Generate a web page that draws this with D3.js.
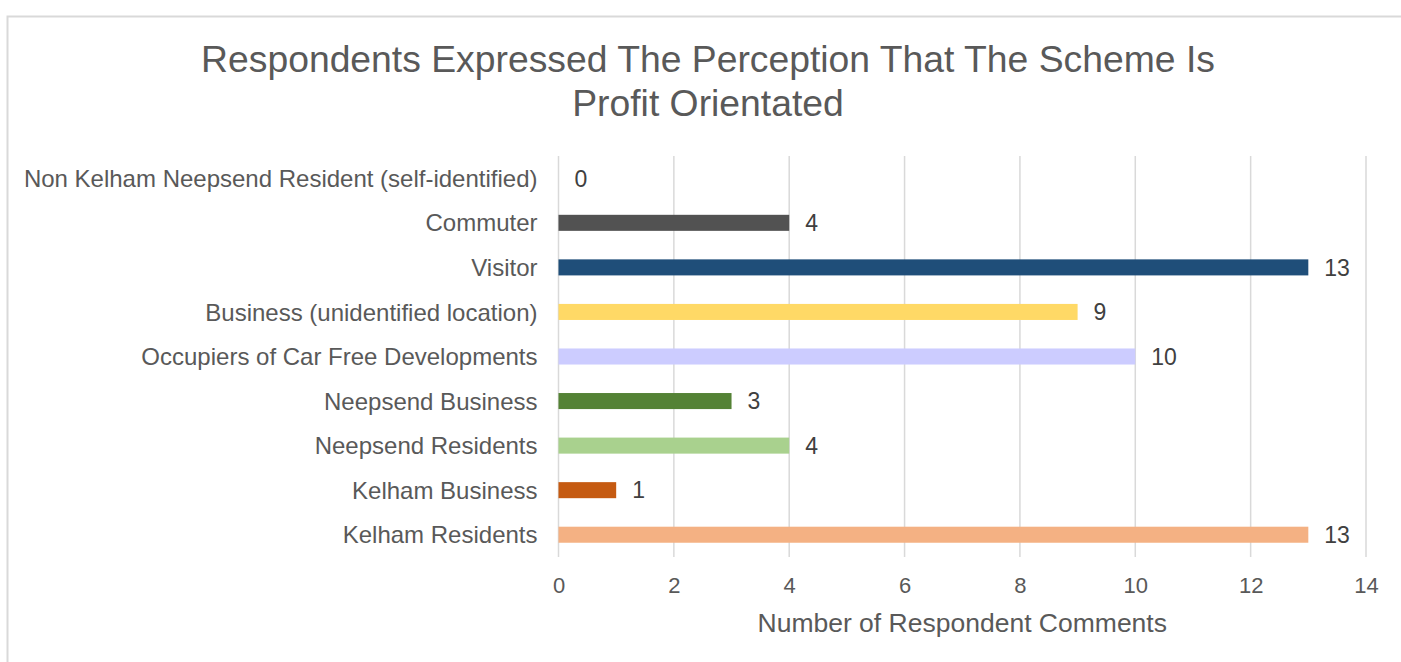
<!DOCTYPE html>
<html>
<head>
<meta charset="utf-8">
<script src="https://cdn.jsdelivr.net/npm/d3@7"></script>
<style>
  html, body { margin: 0; padding: 0; background: #ffffff; }
  svg { display: block; }
</style>
</head>
<body>
<div id="chart"></div>
<script>

// data (top to bottom as drawn)
const categories = [
  "Non Kelham Neepsend Resident (self-identified)",
  "Commuter",
  "Visitor",
  "Business (unidentified location)",
  "Occupiers of Car Free Developments",
  "Neepsend Business",
  "Neepsend Residents",
  "Kelham Business",
  "Kelham Residents"
];
const values = [0, 4, 13, 9, 10, 3, 4, 1, 13];
const barColors = ["#525252", "#525252", "#1f4e79", "#ffd966", "#ccccff", "#548235", "#a9d18e", "#c55a11", "#f4b183"];
const xTicks = [0, 2, 4, 6, 8, 10, 12, 14];
const titleLines = ["Respondents Expressed The Perception That The Scheme Is", "Profit Orientated"];
const xTitle = "Number of Respondent Comments";


const W = 1401, H = 662;
const fontFamily = "'Liberation Sans', Arial, Helvetica, sans-serif";
const plot = { left: 558.5, right: 1366, top: 156, bottom: 557 };

const svg = d3.select("#chart").append("svg")
  .attr("width", W)
  .attr("height", H);

// chart frame, runs off the right and bottom edge
svg.append("rect")
  .attr("x", 7.5)
  .attr("y", 16.5)
  .attr("width", W + 20)
  .attr("height", H + 20)
  .attr("fill", "#ffffff")
  .attr("stroke", "#d9d9d9")
  .attr("stroke-width", 2);

const x = d3.scaleLinear()
  .domain([0, 14])
  .range([plot.left, plot.right]);

const y = d3.scaleBand()
  .domain(categories)
  .range([plot.top, plot.bottom])
  .paddingInner(0.64)
  .paddingOuter(0.32);

// gridlines
svg.append("g")
  .selectAll("line")
  .data(xTicks)
  .join("line")
  .attr("x1", d => x(d))
  .attr("x2", d => x(d))
  .attr("y1", plot.top)
  .attr("y2", plot.bottom)
  .attr("stroke", "#d9d9d9")
  .attr("stroke-width", 1.5);

// bars
svg.append("g")
  .selectAll("rect")
  .data(values)
  .join("rect")
  .attr("x", x(0))
  .attr("y", (d, i) => y(categories[i]))
  .attr("width", d => x(d) - x(0))
  .attr("height", y.bandwidth())
  .attr("fill", (d, i) => barColors[i]);

// data labels
svg.append("g")
  .selectAll("text")
  .data(values)
  .join("text")
  .attr("x", d => x(d) + 16)
  .attr("y", (d, i) => y(categories[i]) + y.bandwidth() / 2)
  .attr("dy", "0.36em")
  .attr("font-family", fontFamily)
  .attr("font-size", 23)
  .attr("fill", "#404040")
  .text(d => d);

// category labels
const yAxis = svg.append("g")
  .attr("transform", "translate(" + (plot.left - 21) + ",0)")
  .call(d3.axisLeft(y).tickSize(0).tickPadding(0));
yAxis.select(".domain").remove();
yAxis.selectAll("text")
  .attr("font-family", fontFamily)
  .attr("font-size", 24)
  .attr("fill", "#595959")
  .attr("dy", "0.36em");

// x axis tick labels
const xAxis = svg.append("g")
  .attr("transform", "translate(0," + plot.bottom + ")")
  .call(d3.axisBottom(x).tickValues(xTicks).tickSize(0).tickPadding(20));
xAxis.select(".domain").remove();
xAxis.selectAll("text")
  .attr("font-family", fontFamily)
  .attr("font-size", 22)
  .attr("fill", "#595959");

// axis title
svg.append("text")
  .attr("x", (plot.left + plot.right) / 2)
  .attr("y", 632)
  .attr("text-anchor", "middle")
  .attr("font-family", fontFamily)
  .attr("font-size", 26.5)
  .attr("fill", "#595959")
  .text(xTitle);

// chart title
svg.append("g")
  .selectAll("text")
  .data(titleLines)
  .join("text")
  .attr("x", 708)
  .attr("y", (d, i) => 72 + i * 44)
  .attr("text-anchor", "middle")
  .attr("font-family", fontFamily)
  .attr("font-size", 37.3)
  .attr("fill", "#595959")
  .text(d => d);

</script>
</body>
</html>
